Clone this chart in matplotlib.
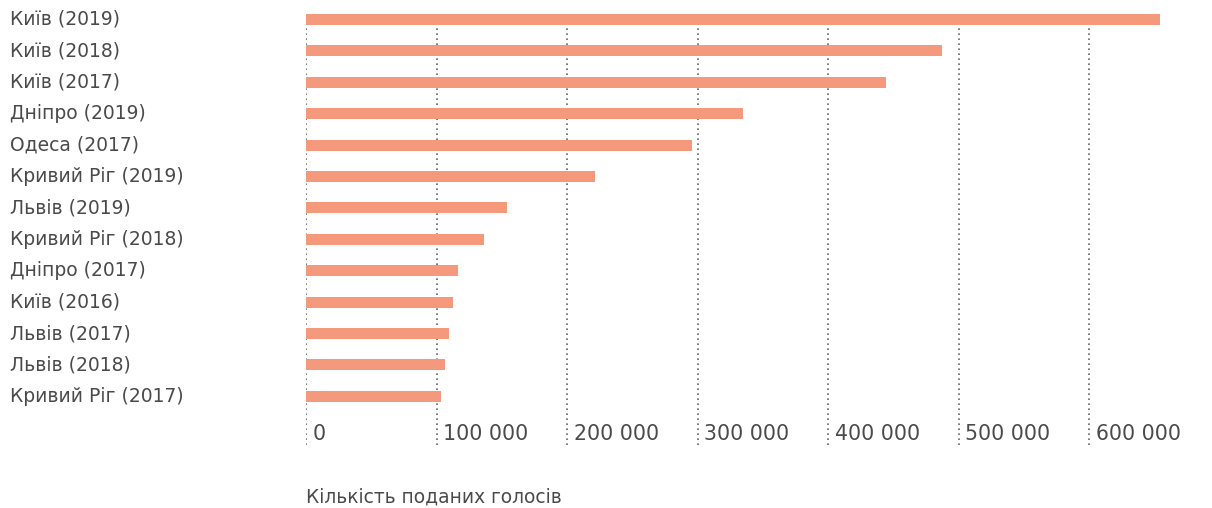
import matplotlib
matplotlib.use("Agg")
import matplotlib.pyplot as plt
import matplotlib.transforms as mtransforms

plt.rcParams['font.family'] = ['DejaVu Sans']

# votes by city and year
labels = ["Київ (2019)", "Київ (2018)", "Київ (2017)", "Дніпро (2019)", "Одеса (2017)",
          "Кривий Ріг (2019)", "Львів (2019)", "Кривий Ріг (2018)", "Дніпро (2017)",
          "Київ (2016)", "Львів (2017)", "Львів (2018)", "Кривий Ріг (2017)"]
votes = [654600, 487400, 444400, 334600, 296000, 221500, 154300,
         136600, 116500, 112400, 109600, 106500, 103200]
ticks = [0, 100000, 200000, 300000, 400000, 500000, 600000]
tick_labels = ["0", "100 000", "200 000", "300 000", "400 000", "500 000", "600 000"]

W, H = 1212, 508
BAR = "#f4997b"
TXT = "#4a4a4a"

fig = plt.figure(figsize=(W / 100, H / 100), dpi=100)
# axes in pixel terms: x=0 at px 306, 130.5 px per 100k; first bar top at px 14
x0, x1 = 306, 1200
y_top, y_bot = 14, 445
ax = fig.add_axes([x0 / W, 1 - y_bot / H, (x1 - x0) / W, (y_bot - y_top) / H])
ax.set_xlim(0, (x1 - x0) / 130.5 * 100000)
ax.set_ylim(13.55, -0.175)

ypos = list(range(len(labels)))
ax.barh(ypos, votes, height=0.35, color=BAR, zorder=2)

for t in ticks:
    ax.axvline(t, color="#666666", linestyle=(0, (1, 2)), linewidth=1.2, zorder=1)

for spine in ax.spines.values():
    spine.set_visible(False)
ax.set_xticks([])
ax.set_yticks([])

# tick labels right of each gridline
for t, tl in zip(ticks, tick_labels):
    ax.text(t + 5000, 13.2, tl, ha="left", va="center", fontsize=14.8, color=TXT)

# category labels at left edge of figure
trans = mtransforms.blended_transform_factory(fig.transFigure, ax.transData)
for y, lab in zip(ypos, labels):
    ax.text(10 / W, y, lab, transform=trans, ha="left", va="center", fontsize=13.5, color=TXT)

fig.text(x0 / W, 1 - 497 / H, "Кількість поданих голосів", ha="left", va="center",
         fontsize=13.4, color=TXT)

fig.savefig("out.png", dpi=100, facecolor="white")
